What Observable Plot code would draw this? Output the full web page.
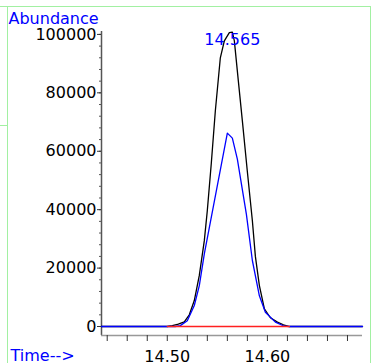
<!DOCTYPE html>
<html>
<head>
<meta charset="utf-8">
<script src="https://cdn.jsdelivr.net/npm/d3@7"></script>
<script src="https://cdn.jsdelivr.net/npm/@observablehq/plot@0.6"></script>
<style>
  html, body { margin: 0; padding: 0; background: #fff; }
  #wrap { position: relative; width: 371px; height: 363px; overflow: hidden; }
  #wrap svg { position: absolute; left: 0; top: 0; }
  .g { position: absolute; background: #a2f0a2; }
</style>
</head>
<body>
<div id="wrap">
  <div class="g" style="left:0;top:6px;width:371px;height:1px"></div>
  <div class="g" style="left:7px;top:6px;width:1px;height:357px"></div>
  <div class="g" style="left:0;top:125px;width:7px;height:1px"></div>
  <div class="g" style="left:370px;top:6px;width:1px;height:357px"></div>
</div>
<script>
// Black trace (TIC)
const blackTime  = [14.4343, 14.500, 14.505, 14.511, 14.517, 14.522, 14.527, 14.532, 14.537, 14.540, 14.544, 14.548, 14.553, 14.557, 14.562, 14.565, 14.567, 14.571, 14.575, 14.580, 14.585, 14.588, 14.592, 14.597, 14.603, 14.610, 14.616, 14.622, 14.695];
const blackValue = [0, 0, 300, 800, 1600, 4000, 8900, 17500, 29400, 39700, 56000, 73800, 92000, 97800, 100600, 100800, 97800, 84000, 70400, 53000, 36200, 24000, 14000, 6000, 3000, 1500, 600, 0, 0];
// Blue trace
const blueTime  = [14.4343, 14.508, 14.513, 14.520, 14.527, 14.532, 14.537, 14.560, 14.565, 14.570, 14.579, 14.585, 14.592, 14.598, 14.608, 14.617, 14.622, 14.695];
const blueValue = [0, 0, 300, 2000, 7200, 14000, 24900, 66200, 64500, 57300, 38500, 22600, 10500, 4900, 1500, 100, 0, 0];
// Red baseline segment
const redTime  = [14.500, 14.622];
const redValue = [0, 0];
// Peak label
const peakTime  = [14.565];
const peakValue = [100800];
const peakText  = ["14.565"];
// Axes
const xDomain = [14.4343, 14.695];
const yDomain = [-3077, 101000];
const xTicks = [14.44, 14.46, 14.48, 14.50, 14.52, 14.54, 14.56, 14.58, 14.60, 14.62, 14.64, 14.66, 14.68];
const xLabelTicks = [14.50, 14.60];
const yTicks = [0, 20000, 40000, 60000, 80000, 100000];
const yMinorTicks = d3.range(0, 100001, 4000);
const yTitle = "Abundance";
const xTitle = "Time-->";

const black = blackTime.map((t, i) => ({t, v: blackValue[i]}));
const blue = blueTime.map((t, i) => ({t, v: blueValue[i]}));
const red = redTime.map((t, i) => ({t, v: redValue[i]}));
const peaks = peakTime.map((t, i) => ({t, v: peakValue[i], label: peakText[i]}));

const chart = Plot.plot({
  width: 371,
  height: 363,
  marginLeft: 101,
  marginRight: 9,
  marginTop: 31,
  marginBottom: 28,
  style: {fontFamily: "DejaVu Sans", fontSize: "16px", background: "transparent", color: "#000"},
  x: {domain: xDomain},
  y: {domain: yDomain},
  marks: [
    Plot.ruleX([xDomain[0]], {stroke: "#555", strokeWidth: 1.5}),
    Plot.ruleY([yDomain[0]], {stroke: "#999", strokeWidth: 1.5}),
    Plot.axisX({ticks: xTicks, tickSize: 6, tickFormat: () => "", label: null, stroke: "#333"}),
    Plot.axisX({ticks: xLabelTicks, tickSize: 0, tickPadding: 15, tickFormat: d3.format(".2f"), label: null, fill: "#000"}),
    Plot.axisY({ticks: yMinorTicks, tickSize: 2, tickFormat: () => "", label: null, stroke: "#555"}),
    Plot.axisY({ticks: yTicks, tickSize: 4, tickPadding: 1, tickFormat: d => String(d), label: null, stroke: "#333", fill: "#000"}),
    Plot.line(black, {x: "t", y: "v", stroke: "#000", strokeWidth: 1.3}),
    Plot.line(blue, {x: "t", y: "v", stroke: "#0000ff", strokeWidth: 1.3}),
    Plot.line(red, {x: "t", y: "v", stroke: "#ff2020", strokeWidth: 1.3}),
    Plot.text(peaks, {x: "t", y: "v", text: "label", fill: "#0000ff", lineAnchor: "top", dy: 2}),
    Plot.text([yTitle], {frameAnchor: "top-left", dx: -93, dy: -8, lineAnchor: "bottom", textAnchor: "start", fill: "#0000ff"}),
    Plot.text([xTitle], {frameAnchor: "bottom-left", dx: -91, dy: 25, lineAnchor: "bottom", textAnchor: "start", fill: "#0000ff"})
  ]
});
document.getElementById("wrap").prepend(chart);
</script>
</body>
</html>
